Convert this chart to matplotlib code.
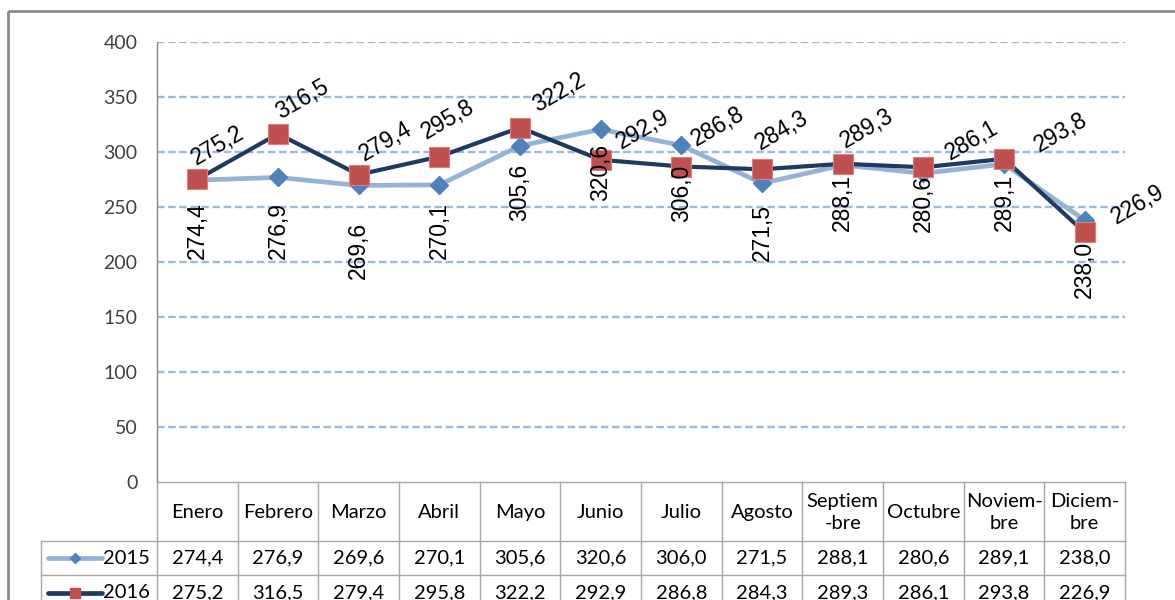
import numpy as np
import matplotlib
matplotlib.use("Agg")
import matplotlib.pyplot as plt
from matplotlib.patches import Rectangle

# datos
meses = ["Enero", "Febrero", "Marzo", "Abril", "Mayo", "Junio", "Julio",
         "Agosto", "Septiem\n-bre", "Octubre", "Noviem-\nbre", "Diciem-\nbre"]
v2015 = [274.4, 276.9, 269.6, 270.1, 305.6, 320.6, 306.0, 271.5, 288.1, 280.6, 289.1, 238.0]
v2016 = [275.2, 316.5, 279.4, 295.8, 322.2, 292.9, 286.8, 284.3, 289.3, 286.1, 293.8, 226.9]
yticks = [0, 50, 100, 150, 200, 250, 300, 350, 400]

# posiciones de etiquetas (pixeles)
off15 = [22, 25, 36, 17, 18, 15, 19, 21, 9, 2, 10, 21]
off16 = [(20, 34), (24, 34), (27, 33), (9, 37), (39, 35), (42, 30),
         (37, 40), (20, 39), (24, 35), (49, 27), (57, 26), (53, 28)]

c15_line = '#95B3D7'
c15_mark = '#4F81BD'
c16_line = '#1F3A60'
c16_mark = '#C0504D'
tabfont = 'Lato'
lblfont = 'Liberation Sans'

def fmt(v):
    return f"{v:.1f}".replace('.', ',')

W, H = 1175, 600
fig = plt.figure(figsize=(W / 100, H / 100), dpi=100)
L, R, T, B = 157, 1125, 42, 482
ax = fig.add_axes([L / W, 1 - B / H, (R - L) / W, (B - T) / H])
x = np.arange(12) + 0.5

ax.plot(x, v2015, color=c15_line, lw=3.4, marker='D', ms=9,
        mfc=c15_mark, mec=c15_mark, zorder=3)
ax.plot(x, v2016, color=c16_line, lw=3.0, marker='s', ms=15,
        mfc=c16_mark, mec='#D98080', mew=0.8, zorder=4)

for i in range(12):
    ax.annotate(fmt(v2015[i]), (x[i], v2015[i]), xytext=(0, -off15[i]),
                textcoords='offset pixels', rotation=90, ha='center', va='top',
                fontsize=16.5, family=lblfont, color='black', zorder=6,
                annotation_clip=False)
    dx, dy = off16[i]
    ax.annotate(fmt(v2016[i]), (x[i], v2016[i]), xytext=(dx, dy),
                textcoords='offset pixels', rotation=30, ha='center', va='center',
                fontsize=16.5, family=lblfont, color='black', zorder=6,
                annotation_clip=False)

ax.set_xlim(0, 12)
ax.set_ylim(0, 400)
ax.set_yticks(yticks)
ax.set_xticks([])
ax.tick_params(axis='y', length=0, pad=14, labelsize=14, labelcolor='#404040')
for lab in ax.get_yticklabels():
    lab.set_family(tabfont)
for yv in yticks[1:]:
    ax.axhline(yv, color='#9EB8E4', lw=1.7, dashes=(3.2, 1.5), zorder=1)
for s in ['top', 'right', 'bottom']:
    ax.spines[s].set_visible(False)
ax.spines['left'].set_color('#868686')
ax.spines['left'].set_linewidth(1.0)
ax.patch.set_alpha(0)

# tabla de datos
ov = fig.add_axes([0, 0, 1, 1])
ov.set_xlim(0, W)
ov.set_ylim(H, 0)
ov.axis('off')
ov.patch.set_alpha(0)

ov.add_patch(Rectangle((8, 11), 1400, 800, fill=False, ec='#8C8C8C', lw=2))

cols = L + np.arange(13) * (R - L) / 12
gc = '#A6A6A6'
r0, r1, r2, r3 = 482, 541, 575, 640
ov.plot([L, R], [r0, r0], color=gc, lw=1)
ov.plot([41, R], [r1, r1], color=gc, lw=1)
ov.plot([41, R], [r2, r2], color=gc, lw=1)
ov.plot([41, 41], [r1, r3], color=gc, lw=1)
for cx in cols:
    ov.plot([cx, cx], [r0, r3], color=gc, lw=1)

for i in range(12):
    xc = (cols[i] + cols[i + 1]) / 2
    ov.text(xc, (r0 + r1) / 2 + 1, meses[i], ha='center', va='center',
            fontsize=14.5, family=tabfont, color='black', linespacing=1.3)
    ov.text(xc, (r1 + r2) / 2, fmt(v2015[i]), ha='center', va='center',
            fontsize=14.5, family=tabfont, color='black')
    ov.text(xc, (r2 + r3 - 30) / 2, fmt(v2016[i]), ha='center', va='center',
            fontsize=14.5, family=tabfont, color='black')

# leyenda en la tabla
yl1 = (r1 + r2) / 2
yl2 = (r2 + r3 - 30) / 2
ov.plot([48, 102], [yl1, yl1], color=c15_line, lw=3.4, solid_capstyle='round')
ov.plot([75], [yl1], marker='D', ms=5, color=c15_mark)
ov.text(150, yl1, "2015", ha='right', va='center', fontsize=14.5, family=tabfont)
ov.plot([48, 102], [yl2, yl2], color=c16_line, lw=3.4, solid_capstyle='round')
ov.plot([75], [yl2], marker='s', ms=7, mfc=c16_mark, mec=c16_mark)
ov.text(150, yl2, "2016", ha='right', va='center', fontsize=14.5, family=tabfont)

fig.savefig("out.png", dpi=100)
